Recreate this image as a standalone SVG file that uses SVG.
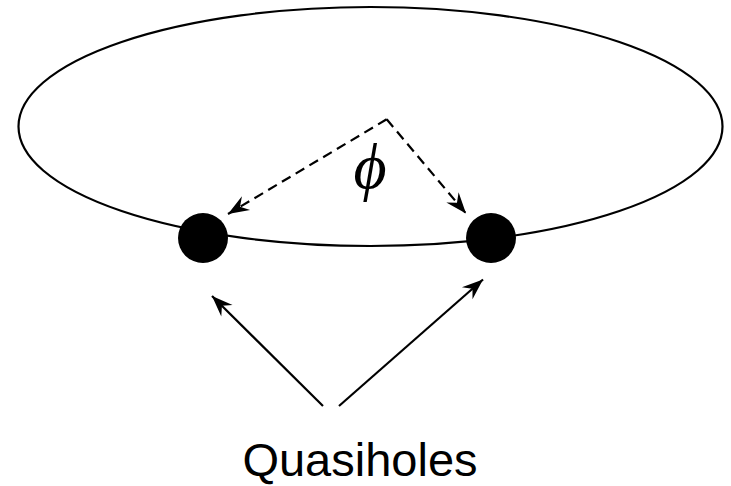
<svg xmlns="http://www.w3.org/2000/svg" width="731" height="486" viewBox="0 0 731 486">
<style>
.ln{fill:none;stroke:#000;stroke-width:2.2}
.dash{stroke-dasharray:10,6}
.dot{fill:#000}
.lbl{font-family:"Liberation Sans",Arial,sans-serif;font-size:47px;fill:#000}
.phi{font-family:"Liberation Serif","DejaVu Serif",serif;font-style:italic;font-size:64px;fill:#000}
</style>
<defs>
<marker id="ah" markerUnits="userSpaceOnUse" viewBox="-22 -10 24 20" refX="0" refY="0" markerWidth="24" markerHeight="20" orient="auto">
<path d="M0,0 L-21,-8 L-14,0 L-21,8 Z" fill="#000"/>
</marker>
</defs>
<rect width="731" height="486" fill="#fff"/>
<g id="ring">
<ellipse class="ln" cx="370.5" cy="126.5" rx="352" ry="119.5"/>
</g>
<g id="connectors">
<path class="ln dash" d="M386.7,119.3 L228,214" marker-end="url(#ah)"/>
<path class="ln dash" d="M386.7,119.3 L466,213.5" marker-end="url(#ah)"/>
<path class="ln" d="M323,406 L212,296" marker-end="url(#ah)"/>
<path class="ln" d="M339,406 L483,279.5" marker-end="url(#ah)"/>
</g>
<g id="hole-left"><circle class="dot" cx="203" cy="238" r="25"/></g>
<g id="hole-right"><circle class="dot" cx="491" cy="238" r="25"/></g>
<g id="angle"><text class="phi" x="370" y="188" text-anchor="middle">ϕ</text></g>
<g id="label"><text class="lbl" x="360" y="476" text-anchor="middle">Quasiholes</text></g>
</svg>
